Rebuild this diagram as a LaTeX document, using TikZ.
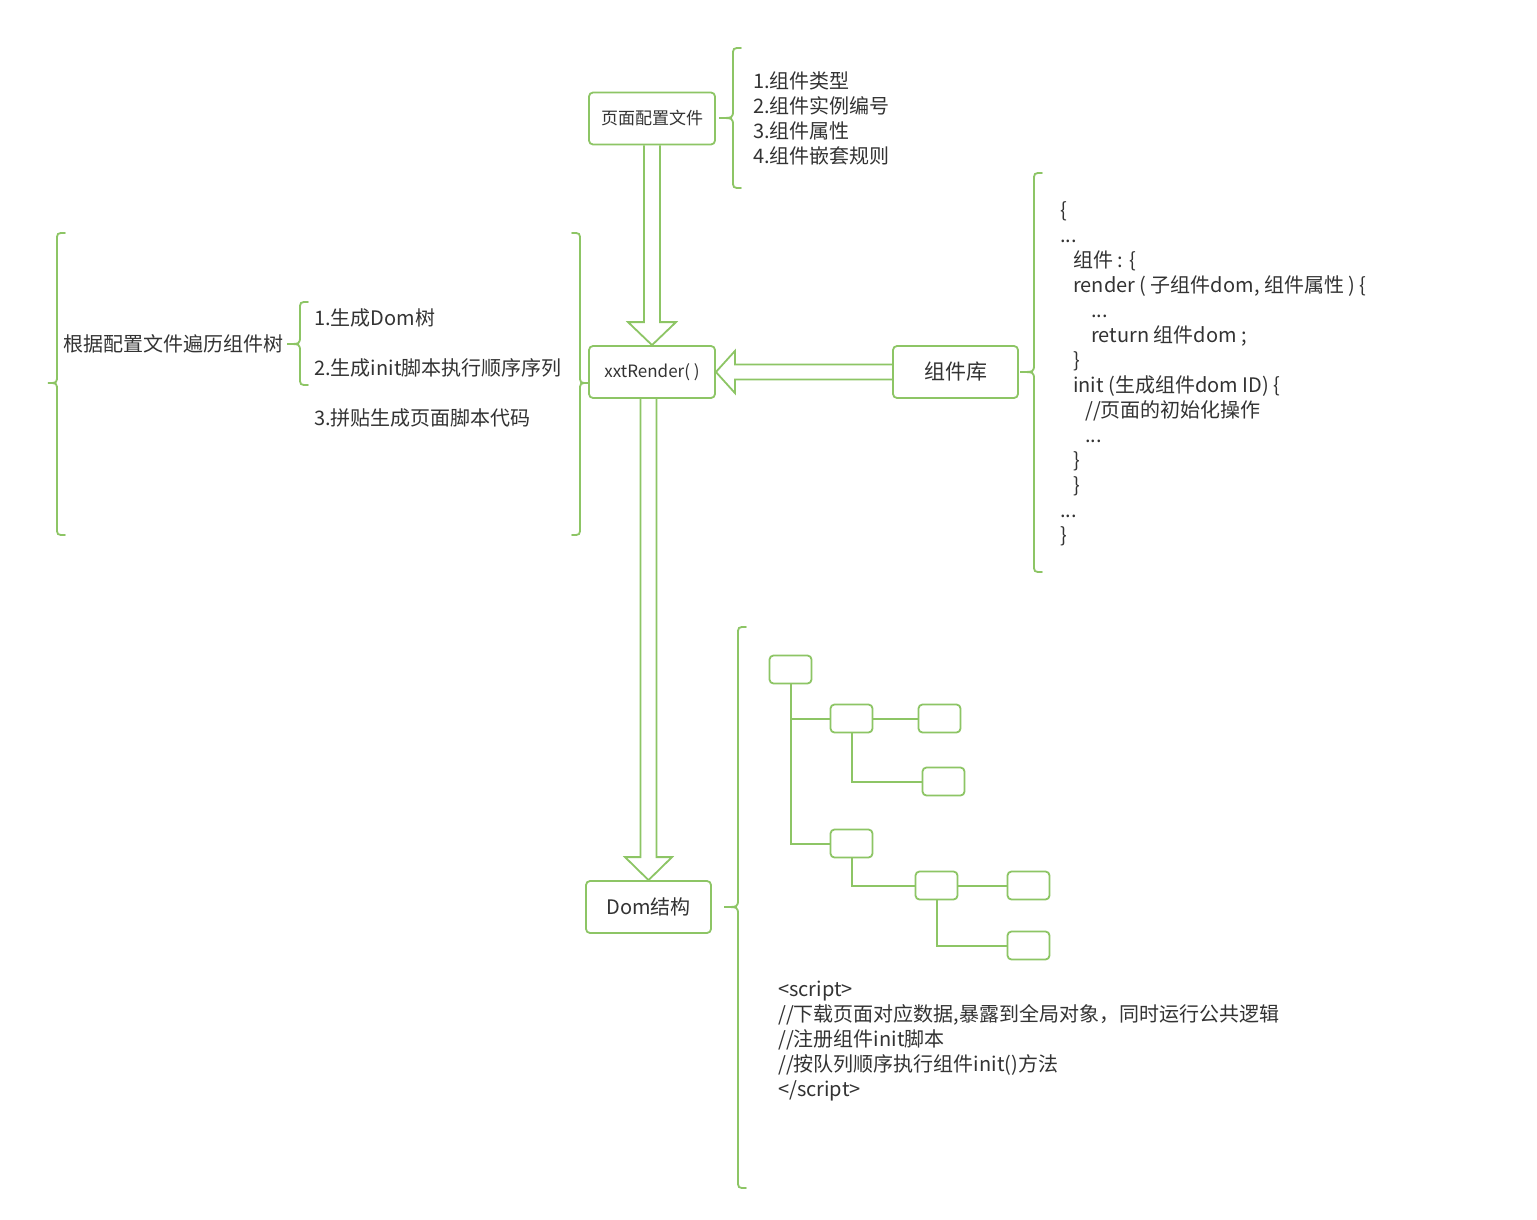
\documentclass[tikz,border=0pt]{standalone}
\usepackage{fontspec}
\setmainfont{Noto Sans CJK SC}
\usetikzlibrary{calc,backgrounds}
\definecolor{xgreen}{RGB}{141,197,101}
\definecolor{xtext}{RGB}{51,51,51}
\newcommand{\xbrace}[6]{\draw[bracestyle] (#1+#2,#4) .. controls (#1,#4) .. (#1,#4+8) -- (#1,#5-8) .. controls (#1,#5) .. (#1+#3,#5) .. controls (#1,#5) .. (#1,#5+8) -- (#1,#6-8) .. controls (#1,#6) .. (#1+#2,#6);}
\begin{document}
\begin{tikzpicture}[x=1pt,y=-1pt,
  box/.style={draw=xgreen, line width=1.8pt, rounded corners=4pt, fill=white, text=xtext, inner sep=0pt},
  leaf/.style={box, minimum width=42pt, minimum height=28pt},
  hollow/.style={draw=xgreen, line width=1.8pt, fill=white, line join=miter},
  bracestyle/.style={draw=xgreen, line width=1.8pt, line cap=round},
  treeline/.style={draw=xgreen, line width=2pt},
  txt/.style={anchor=base west, inner sep=0pt, text=xtext, font=\fontsize{20pt}{25pt}\selectfont}]
\useasboundingbox (0,0) rectangle (1537,1220);

% main boxes
\node[box, minimum width=126pt, minimum height=52pt, font=\fontsize{17pt}{20pt}\selectfont] (cfg) at (652,118.5) {页面配置文件};
\node[box, minimum width=126pt, minimum height=52pt, font=\fontsize{17pt}{20pt}\selectfont] (render) at (652,372) {xxtRender( )};
\node[box, minimum width=125pt, minimum height=52pt, font=\fontsize{21pt}{24pt}\selectfont] (lib) at (955.5,372) {组件库};
\node[box, minimum width=125pt, minimum height=52pt, font=\fontsize{20pt}{24pt}\selectfont] (dom) at (648.5,907) {Dom结构};

% hollow arrows (behind boxes)
\begin{scope}[on background layer]
\fill[white] (0,0) rectangle (1537,1220);
\draw[hollow] ($(cfg.south)+(-8,0)$) -- ($(render.north)+(-8,-23)$) -- ($(render.north)+(-24,-23)$) -- (render.north) -- ($(render.north)+(24,-23)$) -- ($(render.north)+(8,-23)$) -- ($(cfg.south)+(8,0)$);
\draw[hollow] ($(lib.west)+(0,-7.5)$) -- ($(render.east)+(19,-7.5)$) -- ($(render.east)+(19,-21)$) -- (render.east) -- ($(render.east)+(19,21)$) -- ($(render.east)+(19,7.5)$) -- ($(lib.west)+(0,7.5)$);
\draw[hollow] ($(render.south -| dom.north)+(-8,0)$) -- ($(dom.north)+(-8,-23)$) -- ($(dom.north)+(-23.5,-23)$) -- (dom.north) -- ($(dom.north)+(23.5,-23)$) -- ($(dom.north)+(8,-23)$) -- ($(render.south -| dom.north)+(8,0)$);
\end{scope}

% braces
\xbrace{733}{8}{-14}{48}{118}{188}
\xbrace{57}{8}{-9}{233}{383}{535}
\xbrace{300}{8}{-13}{302}{344}{385}
\xbrace{580}{-8}{8}{233}{383}{535}
\xbrace{1034}{8}{-14}{173}{372}{572}
\xbrace{738}{8}{-14}{627}{907}{1188}

% config list
\node[txt] (l1) at (753,88.5) {1.组件类型};
\node[txt] (l2) at (753,113.5) {2.组件实例编号};
\node[txt] (l3) at (753,138.5) {3.组件属性};
\node[txt] (l4) at (753,163.5) {4.组件嵌套规则};

% left block
\node[txt] (walk) at (63,351.5) {根据配置文件遍历组件树};
\node[txt] (st1) at (314,325.5) {1.生成Dom树};
\node[txt] (st2) at (314,375.5) {2.生成init脚本执行顺序序列};
\node[txt] (st3) at (314,425.5) {3.拼贴生成页面脚本代码};

% component library code
\node[txt] (c1) at (1060,217.5) {\{};
\node[txt] (c2) at (1060,242.5) {...};
\node[txt] (c3) at (1073,267.5) {组件 : \{};
\node[txt] (c4) at (1073,292.5) {render ( 子组件dom, 组件属性 ) \{};
\node[txt] (c5) at (1091,317.5) {...};
\node[txt] (c6) at (1091,342.5) {return 组件dom ;};
\node[txt] (c7) at (1073,367.5) {\}};
\node[txt] (c8) at (1073,392.5) {init (生成组件dom ID) \{};
\node[txt] (c9) at (1085,417.5) {//页面的初始化操作};
\node[txt] (c10) at (1085,442.5) {...};
\node[txt] (c11) at (1073,467.5) {\}};
\node[txt] (c12) at (1073,492.5) {\}};
\node[txt] (c13) at (1060,517.5) {...};
\node[txt] (c14) at (1060,542.5) {\}};

% dom tree
\node[leaf] (root) at (790.5,669.5) {};
\node[leaf] (A) at (851.5,718.5) {};
\node[leaf] (A1) at (939.5,718.5) {};
\node[leaf] (A2) at (943.5,781.5) {};
\node[leaf] (B) at (851.5,843.5) {};
\node[leaf] (B1) at (936.5,885.5) {};
\node[leaf] (B1a) at (1028.5,885.5) {};
\node[leaf] (B1b) at (1028.5,945.5) {};
\draw[treeline] (root.south) |- (B.west);
\draw[treeline] (root.south |- A.west) -- (A.west);
\draw[treeline] (A.east) -- (A1.west);
\draw[treeline] (A.south) |- (A2.west);
\draw[treeline] (B.south) |- (B1.west);
\draw[treeline] (B1.east) -- (B1a.west);
\draw[treeline] (B1.south) |- (B1b.west);

% script text
\node[txt] (s1) at (778,996.5) {<script>};
\node[txt] (s2) at (778,1021.5) {//下载页面对应数据,暴露到全局对象，同时运行公共逻辑};
\node[txt] (s3) at (778,1046.5) {//注册组件init脚本};
\node[txt] (s4) at (778,1071.5) {//按队列顺序执行组件init()方法};
\node[txt] (s5) at (778,1096.5) {</script>};
\end{tikzpicture}
\end{document}
